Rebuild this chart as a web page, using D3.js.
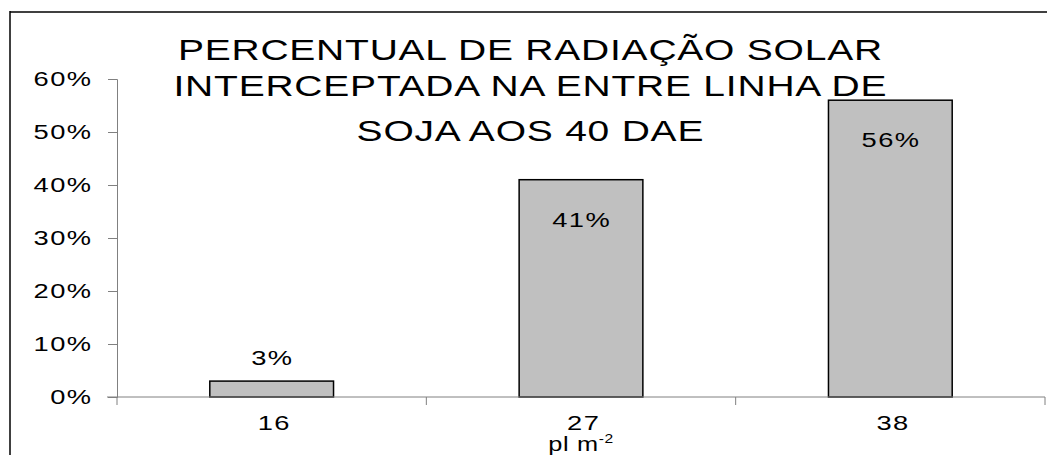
<!DOCTYPE html>
<html>
<head>
<meta charset="utf-8">
<script src="https://cdn.jsdelivr.net/npm/d3@7"></script>
<style>
  body { margin: 0; background: #fff; }
  text { font-family: "Liberation Sans", Arial, sans-serif; fill: #000; }
</style>
</head>
<body>
<svg id="chart" width="1047" height="455"></svg>
<script>
// data
const categories = ["16", "27", "38"];
const values = [0.03, 0.41, 0.56];
const yTicks = [0, 0.1, 0.2, 0.3, 0.4, 0.5, 0.6];
const titleLines = ["PERCENTUAL DE RADIAÇÃO SOLAR", "INTERCEPTADA NA ENTRE LINHA DE", "SOJA AOS 40 DAE"];

const width = 1047;
const height = 455;
const margin = { top: 79, right: 2, bottom: 58, left: 117 };
const pct = d3.format(".0%");

// the original text is wide: stretch it sideways, with a little spacing
const stretch = 1.4;
const spacing = 1;
const titleStretch = 1.3;
const titleSpacing = 0.6;

const svg = d3.select("#chart");

// outer frame (only top + left show)
svg.append("line")
  .attr("x1", 10).attr("x2", width).attr("y1", 12).attr("y2", 12)
  .attr("stroke", "#404040").attr("stroke-width", 2);
svg.append("line")
  .attr("x1", 10).attr("x2", 10).attr("y1", 11).attr("y2", height)
  .attr("stroke", "#000").attr("stroke-width", 1.5);

const x = d3.scaleBand()
  .domain(categories)
  .range([margin.left, width - margin.right])
  .paddingInner(0.6)
  .paddingOuter(0.3);

const y = d3.scaleLinear()
  .domain([0, 0.6])
  .range([height - margin.bottom, margin.top]);

// bars
svg.selectAll(".bar")
  .data(values)
  .enter()
  .append("rect")
  .attr("class", "bar")
  .attr("x", (d, i) => x(categories[i]))
  .attr("y", (d) => y(d))
  .attr("width", x.bandwidth())
  .attr("height", (d) => y(0) - y(d))
  .attr("fill", "#c0c0c0")
  .attr("stroke", "#000")
  .attr("stroke-width", 1.5);

// y axis
const yAxis = svg.append("g")
  .attr("transform", `translate(${margin.left},0)`)
  .call(d3.axisLeft(y).tickValues(yTicks).tickFormat("").tickSizeOuter(0).tickSize(9));
yAxis.select(".domain").attr("stroke", "#808080");
yAxis.selectAll(".tick line").attr("stroke", "#808080");

const wideText = (sel, fontSize, ls) =>
  sel.style("font-size", fontSize + "px")
    .style("letter-spacing", ls + "px");

// trailing letter-spacing shifts anchored text, so nudge it back
svg.selectAll(".ylabel")
  .data(yTicks)
  .enter()
  .append("text")
  .attr("class", "ylabel")
  .attr("transform", (d) => `translate(${91 + spacing * stretch},${y(d) + 7}) scale(${stretch},1)`)
  .attr("text-anchor", "end")
  .call(wideText, 19.5, spacing)
  .text((d) => pct(d));

// x axis, ticks sit between categories
const step = x.step();
const xEdges = [0, 1, 2, 3].map((i) => margin.left + i * step);
svg.append("line")
  .attr("x1", margin.left - 10).attr("x2", xEdges[3])
  .attr("y1", y(0)).attr("y2", y(0))
  .attr("stroke", "#808080");
svg.selectAll(".xtick")
  .data(xEdges)
  .enter()
  .append("line")
  .attr("x1", (d) => d).attr("x2", (d) => d)
  .attr("y1", y(0)).attr("y2", y(0) + 8)
  .attr("stroke", "#808080");

svg.selectAll(".xlabel")
  .data(categories)
  .enter()
  .append("text")
  .attr("transform", (d) => `translate(${x(d) + x.bandwidth() / 2 + 2 + (spacing * stretch) / 2},${y(0) + 33}) scale(${stretch},1)`)
  .attr("text-anchor", "middle")
  .call(wideText, 19.5, spacing)
  .text((d) => d);

// axis title pl m-2
const xt = svg.append("text")
  .attr("transform", `translate(${x("27") + x.bandwidth() / 2},${y(0) + 54}) scale(1.3,1)`)
  .attr("text-anchor", "middle")
  .call(wideText, 19.5, 0.5);
xt.append("tspan").text("pl m");
xt.append("tspan").attr("dy", -8).style("font-size", "12px").text("-2");

// value labels
svg.selectAll(".vlabel")
  .data(values)
  .enter()
  .append("text")
  .attr("transform", (d, i) => {
    const cx = x(categories[i]) + x.bandwidth() / 2 + (spacing * stretch) / 2;
    const ty = d > 0.1 ? y(d) + 47 : y(d) - 16;
    return `translate(${cx},${ty}) scale(${stretch},1)`;
  })
  .attr("text-anchor", "middle")
  .call(wideText, 19.5, spacing)
  .text((d) => pct(d));

// title
const titleY = [60, 96, 141];
svg.selectAll(".title")
  .data(titleLines)
  .enter()
  .append("text")
  .attr("transform", (d, i) => `translate(${530 + (titleSpacing * titleStretch) / 2},${titleY[i]}) scale(${titleStretch},1)`)
  .attr("text-anchor", "middle")
  .call(wideText, 30, titleSpacing)
  .text((d) => d);
</script>
</body>
</html>
